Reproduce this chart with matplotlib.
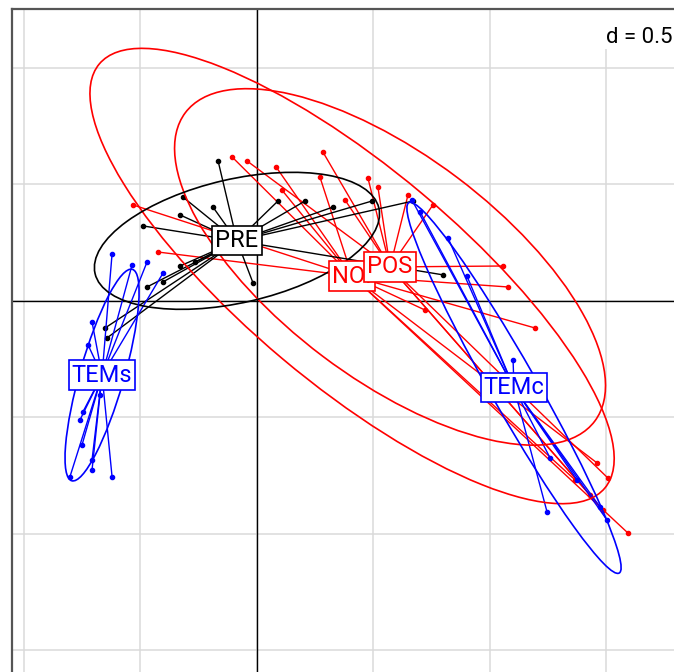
import numpy as np
import matplotlib
matplotlib.use('Agg')
import matplotlib.pyplot as plt
from matplotlib.patches import Ellipse, Rectangle

# groups in factor order (label drawing order)
groups = ['NOI', 'POS', 'PRE', 'TEMc', 'TEMs']
colors = ['#ff0000', '#ff0000', '#000000', '#0000ff', '#0000ff']
centers_x = [0.408, 0.571, -0.086, 1.103, -0.665]
centers_y = [0.107, 0.146, 0.258, -0.373, -0.318]
# ellipse half axes and angle (deg)
ell_a = [1.416, 1.100, 0.625, 0.914, 0.472]
ell_b = [0.464, 0.480, 0.265, 0.100, 0.095]
ell_angle = [-40.0, -37.0, 13.0, -60.4, 74.0]

noi_x = [-0.532, -0.425, -0.107, 0.082, 0.270, 0.107, 1.077, 1.592, 1.365, 1.193, 1.459, 0.721]
noi_y = [0.412, 0.210, 0.618, 0.575, 0.532, 0.476, 0.060, -0.996, -0.768, -0.116, -0.695, -0.039]

pos_x = [-0.043, 0.283, 0.476, 0.519, 0.378, 0.648, 0.755, 1.056, 1.506, 1.485, 1.429]
pos_y = [0.601, 0.639, 0.528, 0.489, 0.433, 0.455, 0.412, 0.150, -0.760, -0.897, -0.833]

pre_x = [-0.167, -0.318, -0.189, -0.330, -0.489, 0.090, 0.206, 0.326, 0.494, 0.670,
         0.798, -0.017, -0.472, -0.403, -0.652, -0.644, -0.330, -0.266]
pre_y = [0.601, 0.446, 0.403, 0.369, 0.322, 0.429, 0.429, 0.403, 0.429, 0.429,
         0.112, 0.077, 0.060, 0.082, -0.116, -0.159, 0.150, 0.167]

temc_x = [0.665, 0.700, 0.820, 0.901, 1.099, 1.258, 1.245, 1.373, 1.472, 1.502]
temc_y = [0.433, 0.382, 0.270, 0.107, -0.253, -0.674, -0.906, -0.768, -0.884, -0.940]

tems_x = [-0.622, -0.536, -0.472, -0.403, -0.708, -0.725, -0.747, -0.760, -0.751,
          -0.708, -0.803, -0.708, -0.622, -0.674]
tems_y = [0.202, 0.155, 0.167, 0.120, -0.090, -0.189, -0.476, -0.511, -0.618,
          -0.682, -0.755, -0.725, -0.755, -0.403]

points_x = [noi_x, pos_x, pre_x, temc_x, tems_x]
points_y = [noi_y, pos_y, pre_y, temc_y, tems_y]

W, H = 674, 672
k = 233.0
x0, x1 = -1.0515, 2.0
y0, y1 = -1.75, 1.253
left_px, top_px = 12, 9
fonts = ['Roboto', 'DejaVu Sans']

fig = plt.figure(figsize=(W / 100, H / 100), dpi=100)
ax = fig.add_axes([left_px / W, (H - top_px - (y1 - y0) * k) / H,
                   (x1 - x0) * k / W, (y1 - y0) * k / H])
ax.set_xlim(x0, x1)
ax.set_ylim(y0, y1)
ax.set_xticks([])
ax.set_yticks([])
for s in ['right', 'bottom']:
    ax.spines[s].set_visible(False)
for s in ['left', 'top']:
    ax.spines[s].set_color('#555555')
    ax.spines[s].set_linewidth(1.6)

# grid
for v in np.arange(-1.0, 2.01, 0.5):
    ax.axvline(v, color='#dadada', lw=1.1, zorder=0.5)
for v in np.arange(-1.5, 1.01, 0.5):
    ax.axhline(v, color='#dadada', lw=1.1, zorder=0.5)
ax.axvline(0, color='black', lw=1.0, zorder=1)
ax.axhline(0, color='black', lw=1.0, zorder=1)

# d = 0.5 box
ax.add_patch(Rectangle((600 / W, (H - 49) / H), 80 / W, 45 / H, transform=fig.transFigure,
                       fc='white', ec='none', zorder=1.2))
ax.text((W - 2) / W, (H - 43) / H, 'd = 0.5', transform=fig.transFigure, ha='right',
        va='baseline', fontsize=16, zorder=1.3, family=fonts)

# stars and points
for cx, cy, xs, ys, col in zip(centers_x, centers_y, points_x, points_y, colors):
    for px, py in zip(xs, ys):
        ax.plot([cx, px], [cy, py], color=col, lw=1.0, zorder=2)
    ax.plot(xs, ys, 'o', color=col, ms=3, zorder=2)

# ellipses
for cx, cy, a, b, ang, col in zip(centers_x, centers_y, ell_a, ell_b, ell_angle, colors):
    ax.add_patch(Ellipse((cx, cy), 2 * a, 2 * b, angle=ang, fill=False,
                         ec=col, lw=1.2, zorder=2))

# labels
for i, (name, cx, cy, col) in enumerate(zip(groups, centers_x, centers_y, colors)):
    ax.text(cx, cy, name, ha='center', va='center', color=col, fontsize=17, zorder=5 + i,
            family=fonts,
            bbox=dict(boxstyle='square,pad=0.13', fc='white', ec=col, lw=1.2))

fig.savefig('out.png', dpi=100)
